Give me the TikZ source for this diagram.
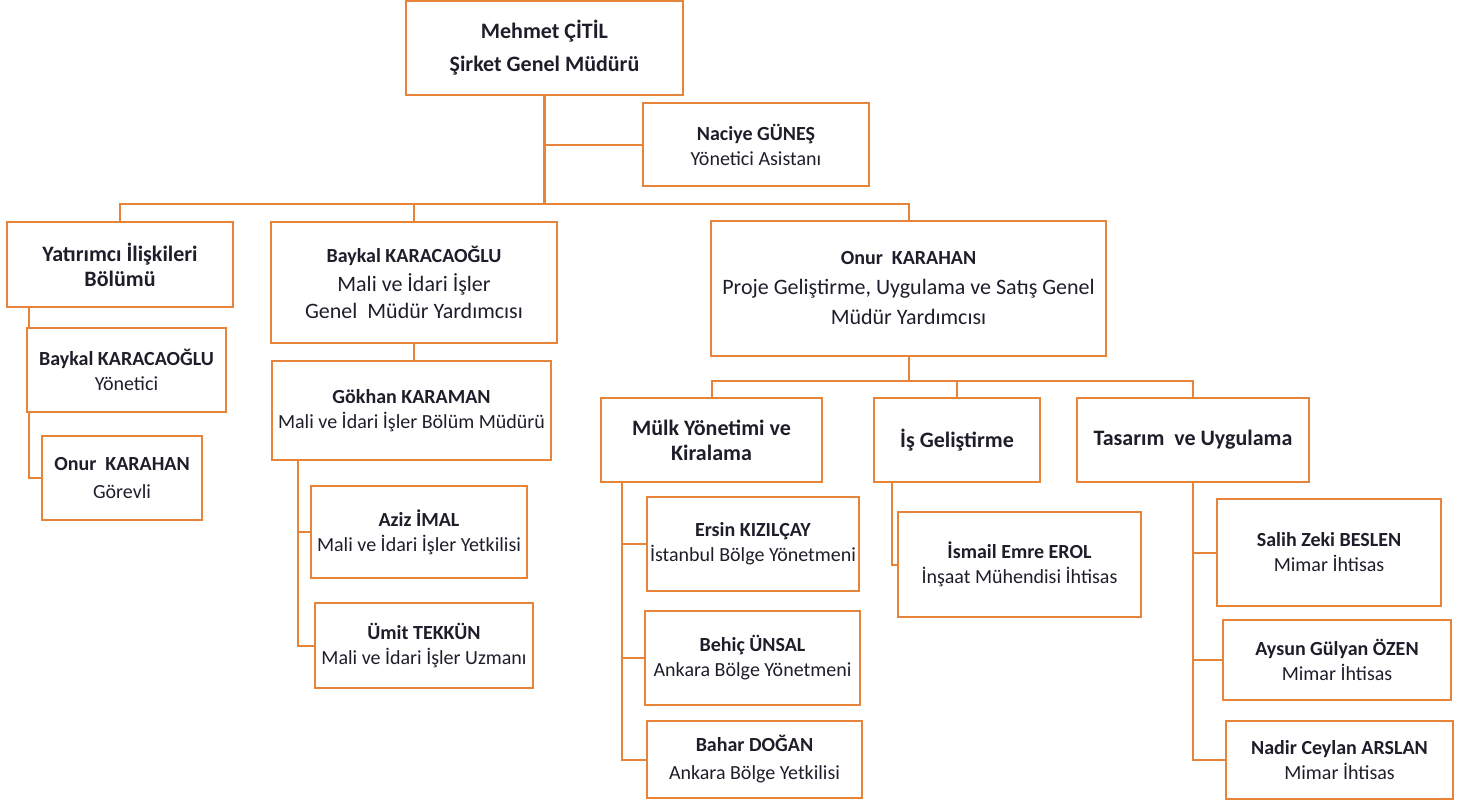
\documentclass[tikz,border=0pt]{standalone}
\usepackage{fontspec}
\setmainfont{Carlito}
\usepackage{xcolor}
\usepackage{tikz}
\usetikzlibrary{positioning}
\definecolor{turuncu}{HTML}{E8833A}
\definecolor{yazi}{HTML}{1E1E2A}

\begin{document}
\begin{tikzpicture}[x=0.5pt, y=-0.5pt,
	kutu/.style={rectangle, draw=turuncu, line width=1pt, align=center, inner sep=1pt, text=yazi, font=\fontsize{10}{12.5}\selectfont},
	buyuk/.style={font=\fontsize{11}{13.5}\selectfont},
	hat/.style={draw=turuncu, line width=1pt}]
	\useasboundingbox (0,0) rectangle (1463,805);
	
	% ust kademe
	\node[kutu, buyuk, minimum width=138.5pt, minimum height=47pt] (mudur) at (544.5,47.5) {\textbf{Mehmet ÇİTİL}\\[3pt]\textbf{Şirket Genel Müdürü}};
	\node[kutu, minimum width=113pt, minimum height=41.5pt] (asistan) at (756,144.5) {\textbf{Naciye GÜNEŞ}\\Yönetici Asistanı};
	
	% ikinci kademe
	\node[kutu, buyuk, minimum width=113pt, minimum height=42.5pt] (yatirimci) at (120,264.5) {\textbf{Yatırımcı İlişkileri}\\[-1pt]\textbf{Bölümü}};
	\node[kutu, buyuk, minimum width=143pt, minimum height=60.5pt] (baykalmali) at (414,282.5) {{\fontsize{10}{12.5}\selectfont\textbf{Baykal KARACAOĞLU}}\\[1pt]Mali ve İdari İşler\\[0pt]Genel\ \ Müdür Yardımcısı};
	\node[kutu, buyuk, minimum width=197.5pt, minimum height=67.5pt] (onurproje) at (908.5,288.5) {{\fontsize{10}{12.5}\selectfont\textbf{Onur\ \ KARAHAN}}\\[1.5pt]Proje Geliştirme, Uygulama ve Satış Genel\\[1.5pt]Müdür Yardımcısı};
	
	% yatirimci iliskileri
	\node[kutu, minimum width=99.5pt, minimum height=42pt] (baykalyon) at (126.5,370) {\textbf{Baykal KARACAOĞLU}\\Yönetici};
	\node[kutu, minimum width=80pt, minimum height=42pt] (onurgor) at (122,478) {\textbf{Onur\ \ KARAHAN}\\[1.5pt]Görevli};
	
	% mali ve idari isler
	\node[kutu, minimum width=139.5pt, minimum height=49.5pt] (gokhan) at (411.5,410.5) {\textbf{Gökhan KARAMAN}\\Mali ve İdari İşler Bölüm Müdürü};
	\node[kutu, minimum width=108pt, minimum height=46pt] (aziz) at (419,532) {\textbf{Aziz İMAL}\\Mali ve İdari İşler Yetkilisi};
	\node[kutu, minimum width=109pt, minimum height=42.5pt] (umit) at (424,645.5) {\textbf{Ümit TEKKÜN}\\Mali ve İdari İşler Uzmanı};
	
	% proje gelistirme bolumleri
	\node[kutu, buyuk, minimum width=110.5pt, minimum height=42pt] (mulk) at (711.5,440) {\textbf{Mülk Yönetimi ve}\\[-1pt]\textbf{Kiralama}};
	\node[kutu, buyuk, minimum width=83pt, minimum height=42pt] (isgel) at (957,440) {\textbf{İş Geliştirme}};
	\node[kutu, buyuk, minimum width=116pt, minimum height=42pt] (tasarim) at (1193,440) {\textbf{Tasarım\ \ ve Uygulama}};
	
	\node[kutu, minimum width=106pt, minimum height=47pt] (ersin) at (753,544) {\textbf{Ersin KIZILÇAY}\\İstanbul Bölge Yönetmeni};
	\node[kutu, minimum width=107.5pt, minimum height=47pt] (behic) at (752.5,658) {\textbf{Behiç ÜNSAL}\\Ankara Bölge Yönetmeni};
	\node[kutu, minimum width=107.5pt, minimum height=38.5pt] (bahar) at (754.5,759.5) {\textbf{Bahar DOĞAN}\\[1.5pt]Ankara Bölge Yetkilisi};
	
	\node[kutu, minimum width=121.5pt, minimum height=52.5pt] (ismail) at (1019.5,564.5) {\textbf{İsmail Emre EROL}\\İnşaat Mühendisi İhtisas};
	
	\node[kutu, minimum width=112pt, minimum height=53.5pt] (salih) at (1329,552.5) {\textbf{Salih Zeki BESLEN}\\Mimar İhtisas};
	\node[kutu, minimum width=114pt, minimum height=40pt] (aysun) at (1337,660) {\textbf{Aysun Gülyan ÖZEN}\\Mimar İhtisas};
	\node[kutu, minimum width=113.5pt, minimum height=39pt] (nadir) at (1339.5,760) {\textbf{Nadir Ceylan ARSLAN}\\Mimar İhtisas};
	
	% baglantilar
	\coordinate (ust) at (544.5,205);
	\draw[hat, line width=1.4pt] (mudur.south) -- (ust);
	\draw[hat] (mudur.south |- asistan.west) -- (asistan.west);
	\draw[hat] (yatirimci.north) -- ++(0,-17) -| (onurproje.north);
	\draw[hat] (baykalmali.north) -- (baykalmali.north |- ust);
	
	\coordinate (yt) at ([xshift=11.5pt]yatirimci.south west);
	\draw[hat] (yt) -- (yt |- baykalyon.north);
	\coordinate (bt) at ([xshift=1.5pt]baykalyon.south west);
	\draw[hat] (bt) |- (onurgor.west);
	
	\draw[hat] (baykalmali.south) -- (baykalmali.south |- gokhan.north);
	\coordinate (gt) at ([xshift=13.5pt]gokhan.south west);
	\draw[hat] (gt) |- (aziz.west);
	\draw[hat] (gt) |- (umit.west);
	
	\draw[hat] (onurproje.south) -- ++(0,24) coordinate (ob);
	\draw[hat] (mulk.north) -- (mulk.north |- ob) -| (tasarim.north);
	\draw[hat] (isgel.north) -- (isgel.north |- ob);
	
	\coordinate (mt) at ([xshift=11pt]mulk.south west);
	\draw[hat] (mt) |- (ersin.west);
	\draw[hat] (mt) |- (behic.west);
	\draw[hat] (mt) |- (bahar.west);
	
	\coordinate (it) at ([xshift=9.5pt]isgel.south west);
	\draw[hat] (it) |- (ismail.west);
	
	\draw[hat] (tasarim.south) |- (salih.west);
	\draw[hat] (tasarim.south) |- (aysun.west);
	\draw[hat] (tasarim.south) |- (nadir.west);
\end{tikzpicture}
\end{document}
